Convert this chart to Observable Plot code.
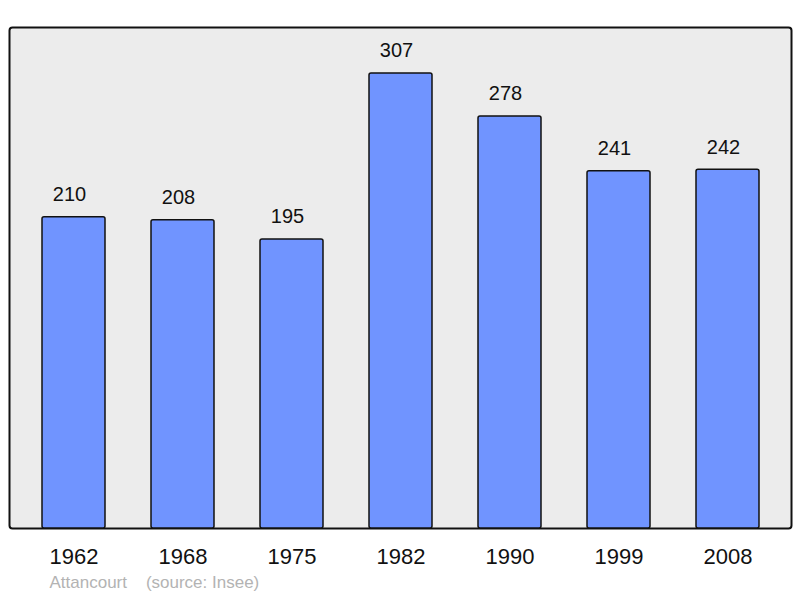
<!DOCTYPE html>
<html>
<head>
<meta charset="utf-8">
<script src="https://cdn.jsdelivr.net/npm/d3@7"></script>
<script src="https://cdn.jsdelivr.net/npm/@observablehq/plot@0.6"></script>
<style>
  html, body { margin: 0; padding: 0; background: #fff; }
</style>
</head>
<body>
<div id="chart"></div>
<script>
const years = ["1962", "1968", "1975", "1982", "1990", "1999", "2008"];
const population = [210, 208, 195, 307, 278, 241, 242];
const caption = "Attancourt\u00a0\u00a0\u00a0\u00a0(source: Insee)";

const data = years.map((year, i) => ({year, value: population[i]}));

const chart = Plot.plot({
  width: 800,
  height: 598,
  marginLeft: 9,
  marginRight: 9,
  marginTop: 27,
  marginBottom: 70,
  style: {fontFamily: "'Liberation Sans', Arial, sans-serif", background: "#fff"},
  x: {domain: years, range: [17.6, 783.6], paddingInner: 0.425, paddingOuter: 0.2125, axis: null},
  y: {domain: [0, 307], range: [528, 73], axis: null},
  marks: [
    Plot.frame({fill: "#ececec", stroke: "#111", strokeWidth: 2, rx: 3}),
    Plot.barY(data, {x: "year", y: "value", fill: "#7094ff", stroke: "#111", strokeWidth: 1.5, rx: 2}),
    Plot.text(data, {x: "year", y: "value", text: d => String(d.value), dx: -4.5, dy: -22.5, fontSize: 20, fill: "#111"}),
    Plot.text(data, {x: "year", y: () => 0, text: "year", dy: 28.5, fontSize: 22, fill: "#111"}),
    Plot.text([caption], {frameAnchor: "bottom-left", text: d => d, dx: 40, dy: 59, fontSize: 17, fill: "#b3b3b3", textAnchor: "start"})
  ]
});
document.getElementById("chart").appendChild(chart);
</script>
</body>
</html>
